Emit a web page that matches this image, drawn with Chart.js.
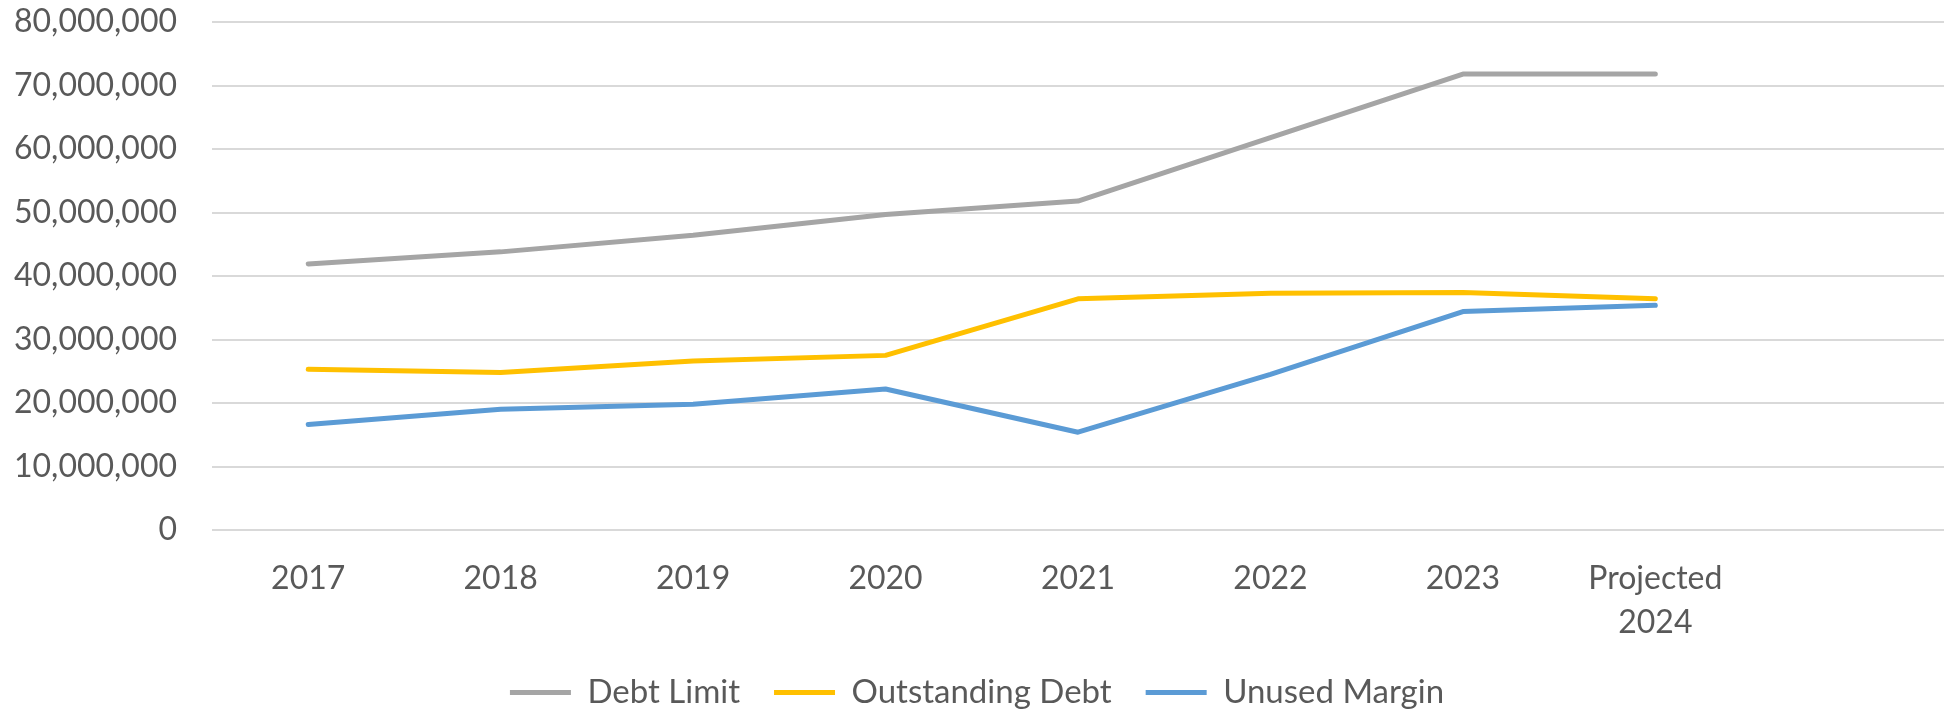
<!DOCTYPE html>
<html>
<head>
<meta charset="utf-8">
<script src="https://cdn.jsdelivr.net/npm/chart.js@4.4.1/dist/chart.umd.min.js"></script>
<style>
  html, body { margin: 0; padding: 0; background: #ffffff; }
  #wrap { position: relative; width: 1946px; height: 714px; }
</style>
</head>
<body>
<div id="wrap"><canvas id="debt-chart"></canvas></div>
<script>
// chart data
const years = ['2017', '2018', '2019', '2020', '2021', '2022', '2023', ['Projected', '2024'], ''];
const debtLimit = [41900000, 43800000, 46400000, 49700000, 51800000, 61800000, 71800000, 71800000];
const outstandingDebt = [25300000, 24800000, 26600000, 27500000, 36400000, 37300000, 37400000, 36400000];
const unusedMargin = [16600000, 19000000, 19800000, 22200000, 15400000, 24500000, 34400000, 35400000];
const yTicks = { min: 0, max: 80000000, step: 10000000 };

const textColor = '#595959';
const fontFamily = 'Lato, "Open Sans", sans-serif';

function makeSeries(label, data, color) {
    return {
        label: label,
        data: data,
        borderColor: color,
        backgroundColor: color,
        borderWidth: 5,
        borderCapStyle: 'round',
        borderJoinStyle: 'round',
        tension: 0,
        pointRadius: 0,
        pointHoverRadius: 0,
        fill: false
    };
}

const chartData = {
    labels: years,
    datasets: [
        makeSeries('Debt Limit', debtLimit, '#A5A5A5'),
        makeSeries('Outstanding Debt', outstandingDebt, '#FFC000'),
        makeSeries('Unused Margin', unusedMargin, '#5B9BD5')
    ]
};

const config = {
    type: 'line',
    data: chartData,
    options: {
        responsive: true,
        maintainAspectRatio: false,
        animation: false,
        layout: {
            // a bit of negative bottom so the legend sits as low as in the picture
            padding: { left: 10, right: 2, top: 0, bottom: -5 }
        },
        plugins: {
            tooltip: { enabled: false },
            legend: {
                position: 'bottom',
                labels: {
                    color: textColor,
                    font: { family: fontFamily, size: 33 },
                    usePointStyle: true,
                    pointStyle: 'line',
                    pointStyleWidth: 61,
                    padding: 34
                }
            }
        },
        scales: {
            x: {
                offset: true,
                grid: { display: false, drawTicks: false },
                border: { display: false },
                ticks: {
                    color: textColor,
                    font: { family: fontFamily, size: 32, lineHeight: 1.36 },
                    padding: 27,
                    maxRotation: 0,
                    autoSkip: false
                },
                afterFit: function (scale) {
                    // chart.js counts tick padding twice, pin the height
                    scale.height = 112;
                }
            },
            y: {
                min: yTicks.min,
                max: yTicks.max,
                grid: { color: '#D9D9D9', lineWidth: 2, drawTicks: false },
                border: { display: false },
                ticks: {
                    stepSize: yTicks.step,
                    color: textColor,
                    font: { family: fontFamily, size: 32 },
                    padding: 35,
                    callback: function (value) {
                        return value.toLocaleString('en-US');
                    }
                },
                afterFit: function (scale) {
                    scale.width = 202;
                    scale.paddingTop = 22;
                }
            }
        }
    }
};

const debtChart = new Chart(document.getElementById('debt-chart'), config);
</script>
</body>
</html>
